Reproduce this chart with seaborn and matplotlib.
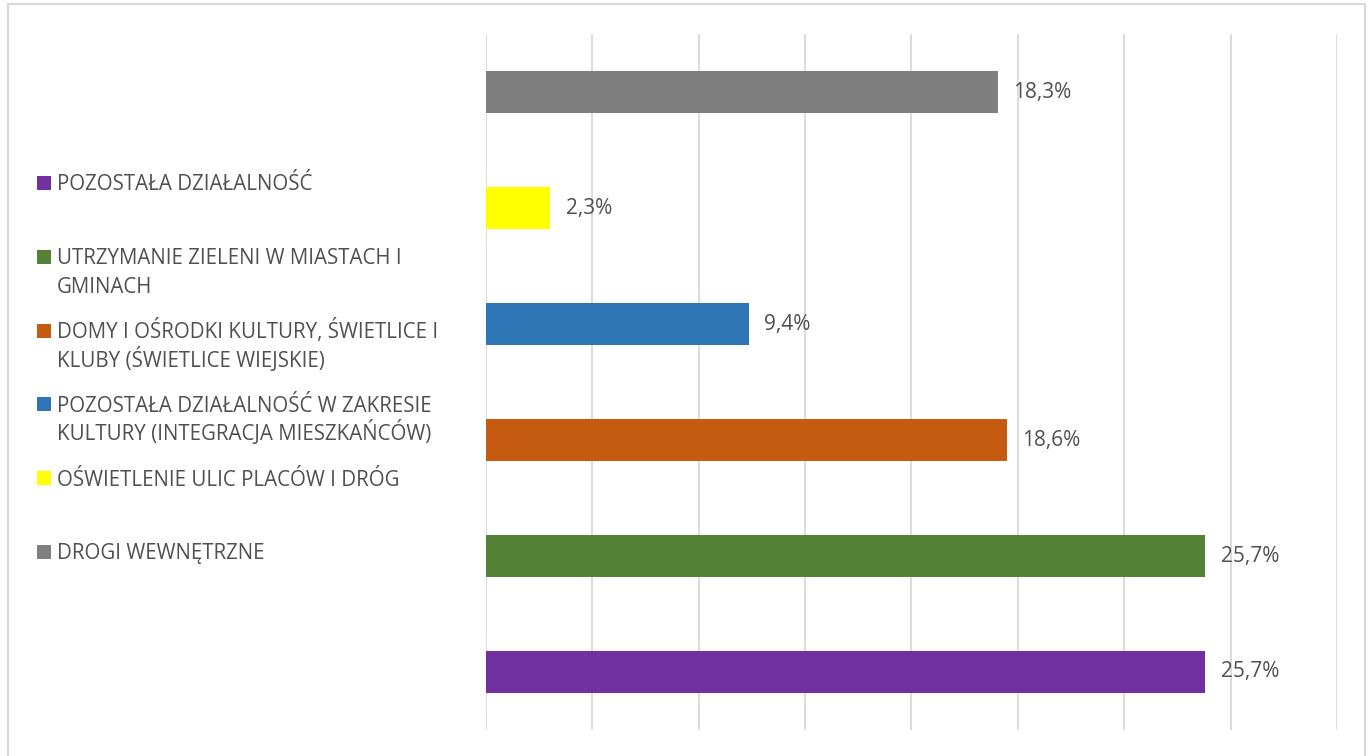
import numpy as np
import pandas as pd
import matplotlib.pyplot as plt
import matplotlib.patches as mpatches
import seaborn as sns

# bars from top to bottom
categories = [
    "DROGI WEWNĘTRZNE",
    "OŚWIETLENIE ULIC PLACÓW I DRÓG",
    "POZOSTAŁA DZIAŁALNOŚĆ W ZAKRESIE\nKULTURY (INTEGRACJA MIESZKAŃCÓW)",
    "DOMY I OŚRODKI KULTURY, ŚWIETLICE I\nKLUBY (ŚWIETLICE WIEJSKIE)",
    "UTRZYMANIE ZIELENI W MIASTACH I\nGMINACH",
    "POZOSTAŁA DZIAŁALNOŚĆ",
]
shares = [0.183, 0.023, 0.094, 0.186, 0.257, 0.257]
colors = ["#7f7f7f", "#ffff00", "#2e75b6", "#c55a11", "#538135", "#7030a0"]

df = pd.DataFrame({"cat": categories, "share": shares})

sns.set_theme(style="white")
plt.rcParams["font.family"] = ["Open Sans", "DejaVu Sans"]
text_color = "#505050"

fig = plt.figure(figsize=(13.72, 7.56), dpi=100)
ax = fig.add_axes([0.3542, 0.0344, 0.6203, 0.9206])

sns.barplot(data=df, y="cat", x="share", hue="cat", palette=colors,
            order=categories, hue_order=categories, width=0.36,
            saturation=1, linewidth=0, legend=False, ax=ax)

xmax = 0.304
ax.set_xlim(0, xmax)
ax.set_ylim(len(categories) - 0.5, -0.5)
ax.set_xticks(np.linspace(0, xmax, 9))
ax.xaxis.grid(True, color="#d9d9d9", linewidth=1.3)
ax.set_axisbelow(True)
ax.tick_params(left=False, bottom=False, labelleft=False, labelbottom=False)
ax.set_xlabel("")
ax.set_ylabel("")
for s in ax.spines.values():
    s.set_visible(False)

for cont in ax.containers:
    ax.bar_label(cont, labels=[f"{v * 100:.1f}%".replace(".", ",") for v in cont.datavalues],
                 padding=11, fontsize=15, color=text_color)

# legend drawn by hand, reversed order, fixed slot per entry
W, H = 1372, 756
for i, (lab, col) in enumerate(zip(categories[::-1], colors[::-1])):
    yc = 183 + i * 73.8
    fig.patches.append(mpatches.Rectangle((37 / W, 1 - (yc + 7) / H), 14 / W, 14 / H,
                                          transform=fig.transFigure, facecolor=col,
                                          edgecolor="none"))
    for k, line in enumerate(lab.split("\n")):
        fig.text(57 / W, 1 - (yc + 7.5 + 28.5 * k) / H, line, ha="left", va="baseline",
                 fontsize=14.8, color=text_color)

# chart border
fig.patches.append(mpatches.Rectangle((8 / W, -0.01), 1357 / W, 1 - 4 / H + 0.01,
                                      transform=fig.transFigure, fill=False,
                                      edgecolor="#d9d9d9", linewidth=1.5))

fig.savefig("out.png", dpi=100)
